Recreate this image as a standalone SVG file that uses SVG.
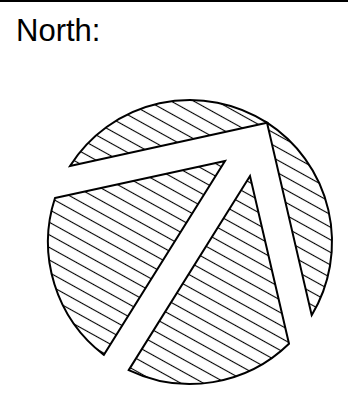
<svg xmlns="http://www.w3.org/2000/svg" width="348" height="393" viewBox="0 0 348 393">
  <style>
    .region { fill: url(#hatch); stroke: #000; stroke-width: 2; stroke-linejoin: miter; }
    .label { font-family: "Liberation Sans", Arial, sans-serif; font-size: 31px; fill: #000; }
  </style>
  <defs>
    <pattern id="hatch" patternUnits="userSpaceOnUse" width="11" height="11" patternTransform="rotate(29)">
      <rect width="11" height="11" fill="#fff"/>
      <line x1="0" y1="5.5" x2="11" y2="5.5" stroke="#000" stroke-width="1.1"/>
    </pattern>
  </defs>
  <rect width="348" height="393" fill="#fff"/>
  <rect x="0" y="0" width="348" height="2" fill="#000"/>
  <g id="title">
    <text class="label" x="16" y="41">North:</text>
  </g>
  <g id="compass">
    <path id="top-wedge" class="region" d="M70,166 A142,142 0 0 1 267,122.7 Z"/>
    <path id="left-region" class="region" d="M55,198 L225,161 L103.9,354.9 A142,142 0 0 1 55,198 Z"/>
    <path id="bottom-region" class="region" d="M128.7,370.1 L250,176 L289,343.8 A142,142 0 0 1 128.7,370.1 Z"/>
    <path id="right-region" class="region" d="M267,122.7 A142,142 0 0 1 311.7,315.2 Z"/>
  </g>
</svg>
